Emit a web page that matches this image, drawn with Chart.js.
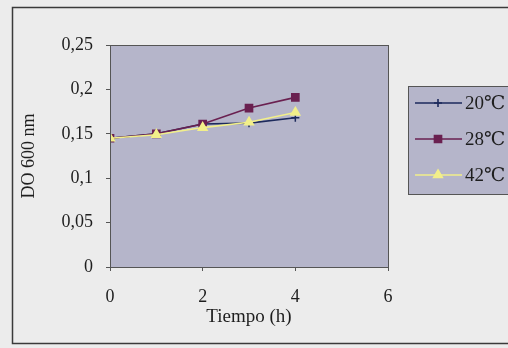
<!DOCTYPE html>
<html>
<head>
<meta charset="utf-8">
<script src="https://cdn.jsdelivr.net/npm/chart.js@4/dist/chart.umd.min.js"></script>
<style>
  html, body { margin: 0; padding: 0; background: #efefef; }
  #wrap { width: 508px; height: 348px; }
</style>
</head>
<body>
<div id="wrap"><canvas id="myChart" width="508" height="348"></canvas></div>
<script>
const hours = [0, 1, 2, 3, 4];
const do20 = [0.145, 0.15, 0.161, 0.162, 0.168];
const do28 = [0.145, 0.15, 0.161, 0.179, 0.191];
const do42 = [0.145, 0.149, 0.157, 0.163, 0.174];
const seriesLabels = ["20℃", "28℃", "42℃"];
const xTicks = [0, 2, 4, 6];
const yTicks = [0, 0.05, 0.1, 0.15, 0.2, 0.25];

const serif = "'Liberation Serif', 'DejaVu Serif', serif";
const ink = "#1e1e1e";

const toPoints = (vals) => hours.map((h, i) => ({ x: h, y: vals[i] }));

// fondo, marco exterior, area de trazado y leyenda
const decor = {
    id: "decor",
    beforeDraw(chart) {
        const c = chart.ctx;
        const a = chart.chartArea;
        c.save();
        c.fillStyle = "#ececec";
        c.fillRect(0, 0, chart.width, chart.height);
        c.strokeStyle = "#3a3a3a";
        c.lineWidth = 1.5;
        c.strokeRect(12.5, 7.5, 520, 336);
        c.fillStyle = "#b5b5ca";
        c.fillRect(a.left, a.top, a.right - a.left, a.bottom - a.top);
        c.restore();
    },
    afterDatasetsDraw(chart) {
        const c = chart.ctx;
        const a = chart.chartArea;
        c.save();
        c.strokeStyle = "#555";
        c.lineWidth = 1;
        c.strokeRect(a.left + 0.5, a.top + 0.5, a.right - a.left, a.bottom - a.top);
        c.restore();
    },
    afterDraw(chart) {
        const c = chart.ctx;
        c.save();
        c.fillStyle = "#b5b5ca";
        c.fillRect(408, 86, 110, 108);
        c.strokeStyle = "#555";
        c.lineWidth = 1;
        c.strokeRect(408.5, 86.5, 110, 108);
        chart.data.datasets.forEach((ds, i) => {
            const y = 103 + i * 36;
            c.strokeStyle = ds.borderColor;
            c.fillStyle = ds.backgroundColor;
            c.lineWidth = 1.6;
            c.beginPath();
            c.moveTo(415, y);
            c.lineTo(462, y);
            c.stroke();
            Chart.helpers.drawPoint(c, {
                pointStyle: ds.pointStyle,
                radius: ds.pointRadius,
                borderWidth: 1.5,
                rotation: 0
            }, 438, y);
            c.fillStyle = ink;
            c.font = "19px " + serif;
            c.textBaseline = "middle";
            c.fillText(ds.label, 465, y + 1);
        });
        c.restore();
    }
};

const ctx = document.getElementById("myChart").getContext("2d");
const myChart = new Chart(ctx, {
    type: "line",
    data: {
        datasets: [{
            label: seriesLabels[0],
            data: toPoints(do20),
            borderColor: "#1d2a5c",
            backgroundColor: "#1d2a5c",
            pointStyle: "cross",
            pointRadius: 4,
            pointBorderWidth: 1.5,
            borderWidth: 1.6,
            order: 2,
        }, {
            label: seriesLabels[1],
            data: toPoints(do28),
            borderColor: "#6a2050",
            backgroundColor: "#6a2050",
            pointStyle: "rect",
            pointRadius: 5,
            borderWidth: 1.6,
            order: 1,
        }, {
            label: seriesLabels[2],
            data: toPoints(do42),
            borderColor: "#f2ef8a",
            backgroundColor: "#f2ef8a",
            pointStyle: "triangle",
            pointRadius: 5,
            borderWidth: 1.6,
            order: 0,
        }, ],
    },
    options: {
        responsive: false,
        animation: false,
        layout: { padding: { left: 0, top: 45, right: 120, bottom: 0 } },
        plugins: {
            legend: { display: false },
            tooltip: { enabled: false },
        },
        scales: {
            x: {
                type: "linear",
                min: 0,
                max: 6,
                afterFit: (s) => { s.height = 81; },
                afterBuildTicks: (s) => { s.ticks = xTicks.map((v) => ({ value: v })); },
                grid: { drawOnChartArea: false, tickLength: 4, color: "#555" },
                border: { color: "#555" },
                ticks: {
                    color: ink,
                    font: { family: serif, size: 18 },
                    padding: 15,
                    maxRotation: 0,
                },
                title: {
                    display: true,
                    text: "Tiempo (h)",
                    color: ink,
                    font: { family: serif, size: 19 },
                    padding: { top: 0, bottom: 20 },
                },
            },
            y: {
                min: 0,
                max: 0.25,
                afterFit: (s) => { s.width = 110; },
                afterBuildTicks: (s) => { s.ticks = yTicks.map((v) => ({ value: v })); },
                grid: { drawOnChartArea: false, tickLength: 4, color: "#555" },
                border: { color: "#555" },
                ticks: {
                    color: ink,
                    font: { family: serif, size: 18 },
                    padding: 13,
                    callback: (v) => String(Number(v.toFixed(2))).replace(".", ","),
                },
                title: {
                    display: true,
                    text: "DO 600 nm",
                    color: ink,
                    font: { family: serif, size: 18 },
                    padding: { top: 18, bottom: 0 },
                },
            },
        },
    },
    plugins: [decor],
});
</script>
</body>
</html>
